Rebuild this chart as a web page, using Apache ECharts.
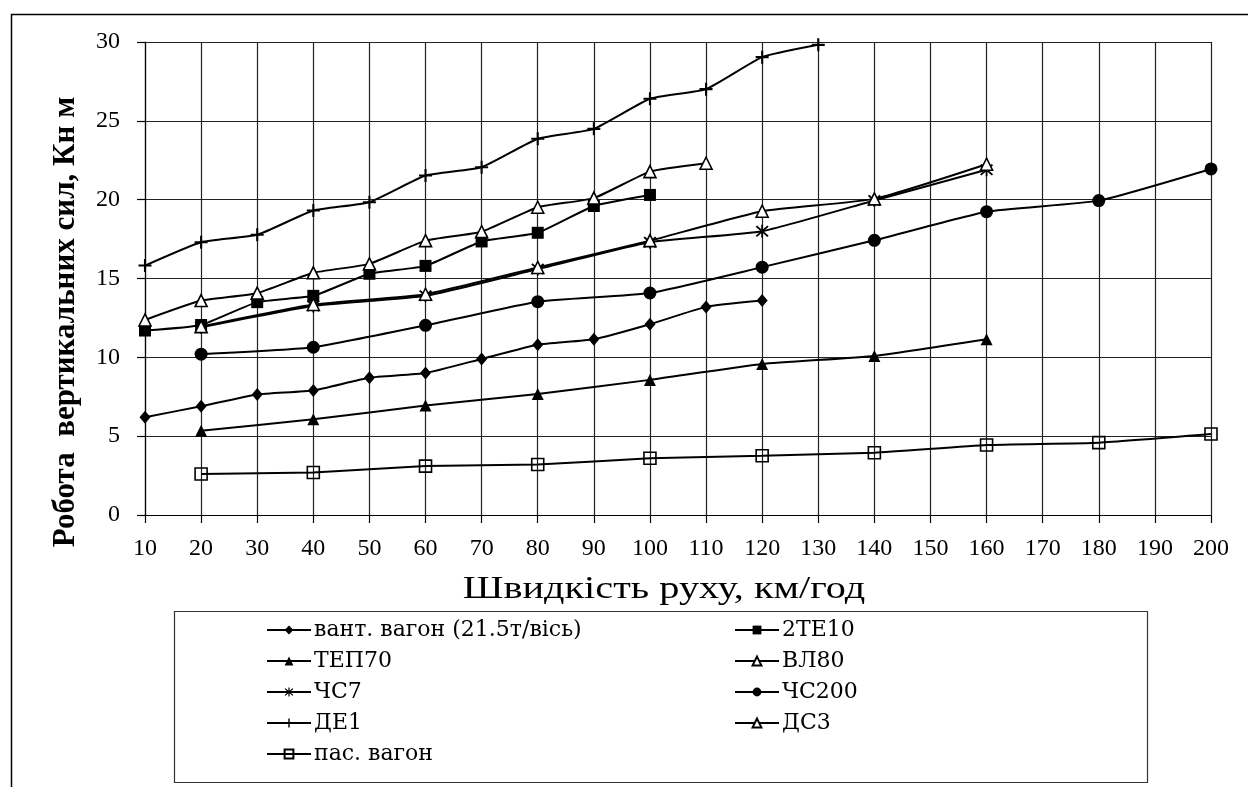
<!DOCTYPE html>
<html>
<head>
<meta charset="utf-8">
<script src="https://cdn.jsdelivr.net/npm/echarts@6/dist/echarts.min.js"></script>
<style>
html,body{margin:0;padding:0;background:#fff;}
#c{width:1248px;height:787px;}
</style>
</head>
<body>
<div id="c"></div>
<script>
// ---- data ----
const xTicks = [10,20,30,40,50,60,70,80,90,100,110,120,130,140,150,160,170,180,190,200];

const seriesNames = ['вант. вагон (21.5т/вісь)','2ТЕ10','ТЕП70','ВЛ80','ЧС7','ЧС200','ДЕ1','ДС3','пас. вагон'];

const vantX  = [10,20,30,40,50,60,70,80,90,100,110,120];
const vantY  = [6.2,6.9,7.65,7.9,8.7,9.0,9.9,10.8,11.15,12.1,13.2,13.6];

const te10X  = [10,20,30,40,50,60,70,80,90,100];
const te10Y  = [11.7,12.05,13.5,13.9,15.3,15.8,17.35,17.9,19.6,20.3];

const tep70X = [20,40,60,80,100,120,140,160];
const tep70Y = [5.35,6.07,6.94,7.68,8.57,9.58,10.09,11.15];

const vl80X  = [10,20,30,40,50,60,70,80,90,100,110];
const vl80Y  = [12.37,13.6,14.07,15.36,15.93,17.4,17.97,19.52,20.1,21.78,22.31];

const chs7X  = [20,40,60,80,100,120,140,160];
const chs7Y  = [11.9,13.25,13.9,15.6,17.3,18.0,19.95,21.9];

const chs200X = [20,40,60,80,100,120,140,160,180,200];
const chs200Y = [10.2,10.64,12.03,13.53,14.08,15.72,17.42,19.24,19.94,21.95];

const de1X   = [10,20,30,40,50,60,70,80,90,100,110,120,130];
const de1Y   = [15.82,17.3,17.77,19.31,19.84,21.53,22.06,23.86,24.49,26.4,27.01,29.04,29.82];

const ds3X   = [20,40,60,80,100,120,140,160];
const ds3Y   = [11.95,13.35,14.0,15.7,17.4,19.27,20.05,22.25];

const pasX   = [20,40,60,80,100,120,140,160,180,200];
const pasY   = [2.6,2.7,3.1,3.2,3.6,3.76,3.95,4.44,4.59,5.14];

// ---- styling ----
const FONT = '"Liberation Serif","Times New Roman",serif';
const WIDEFONT = '"DejaVu Serif","Liberation Serif",serif';
const PLUS = 'path://M4.2,0H5.8V4.2H10V5.8H5.8V10H4.2V5.8H0V4.2H4.2Z';
const STAR = 'path://M4.4,0H5.6V10H4.4Z M0.6,1.5L1.5,0.6L9.4,8.5L8.5,9.4Z M8.5,0.6L9.4,1.5L1.5,9.4L0.6,8.5Z';

function pairs(xs, ys){ return xs.map((x,i)=>[x, ys[i]]); }

function mkSeries(name, xs, ys, symbol, size, fill){
  return {
    name: name,
    type: 'line',
    data: pairs(xs, ys),
    smooth: 0.15,
    symbol: symbol,
    symbolSize: size,
    showAllSymbol: true,
    lineStyle: {color:'#000', width:2},
    itemStyle: {color: fill, borderColor:'#000', borderWidth: (fill==='#000')?0:1.6},
    emphasis: {disabled:true},
    z: 3
  };
}

const series = [
  mkSeries(seriesNames[0], vantX, vantY, 'diamond', [11,13], '#000'),
  mkSeries(seriesNames[1], te10X, te10Y, 'rect', 12, '#000'),
  mkSeries(seriesNames[2], tep70X, tep70Y, 'triangle', 12, '#000'),
  mkSeries(seriesNames[3], vl80X, vl80Y, 'triangle', 12, '#fff'),
  mkSeries(seriesNames[4], chs7X, chs7Y, STAR, 13, '#000'),
  mkSeries(seriesNames[5], chs200X, chs200Y, 'circle', 13, '#000'),
  mkSeries(seriesNames[6], de1X, de1Y, PLUS, 13, '#000'),
  mkSeries(seriesNames[7], ds3X, ds3Y, 'triangle', 12, '#fff'),
  mkSeries(seriesNames[8], pasX, pasY, 'rect', 12, 'rgba(255,255,255,0)')
];

const legendCommon = {
  orient: 'vertical',
  itemWidth: 44,
  itemHeight: 11,
  itemGap: 9,
  textStyle: {fontFamily: WIDEFONT, fontSize: 22, color:'#000', lineHeight: 22, padding:[0,0,0,-2]},
  selectedMode: false
};

const chart = echarts.init(document.getElementById('c'), null, {renderer:'canvas'});
chart.setOption({
  backgroundColor: '#fff',
  animation: false,
  grid: {left:145, right:37, top:42, bottom:272, containLabel:false},
  xAxis: {
    type: 'value', min: 10, max: 200, interval: 10,
    axisLine: {show:true, onZero:false, lineStyle:{color:'#000', width:1.2}},
    axisTick: {show:true, length:8, inside:false, lineStyle:{color:'#000', width:1.2}},
    axisLabel: {fontFamily: FONT, fontSize: 24, color:'#000', margin: 22},
    splitLine: {show:true, lineStyle:{color:'#222', width:1.2}}
  },
  yAxis: {
    type: 'value', min: 0, max: 30, interval: 5,
    axisLine: {show:true, lineStyle:{color:'#000', width:1.2}},
    axisTick: {show:true, length:8, inside:false, lineStyle:{color:'#000', width:1.2}},
    axisLabel: {fontFamily: FONT, fontSize: 24, color:'#000', margin: 25},
    splitLine: {show:true, lineStyle:{color:'#222', width:1.2}}
  },
  legend: [
    Object.assign({}, legendCommon, {left: 261, top: 614, data: [seriesNames[0], seriesNames[2], seriesNames[4], seriesNames[6], seriesNames[8]]}),
    Object.assign({}, legendCommon, {left: 729, top: 614, data: [seriesNames[1], seriesNames[3], seriesNames[5], seriesNames[7]]})
  ],
  graphic: [
    {type:'rect', left: 9, top: 12, shape:{width: 1300, height: 900}, style:{fill:'none', stroke:'#000', lineWidth:1.5}, silent:true, z:-1},
    {type:'rect', left: 172, top: 609, shape:{width: 973, height: 171}, style:{fill:'none', stroke:'#333', lineWidth:1.2}, silent:true},
    {type:'text', x: 664, y: 590, scaleX: 1.3, style:{text:'Швидкість руху, км/год', font: '31px ' + FONT, fill:'#000', align:'center', verticalAlign:'middle'}, silent:true},
    {type:'text', x: 66, y: 322, rotation: Math.PI/2, style:{text:'Робота  вертикальних сил, Кн м', font: 'bold 31px ' + FONT, fill:'#000', align:'center', verticalAlign:'middle'}, silent:true}
  ],
  series: series
});
</script>
</body>
</html>
